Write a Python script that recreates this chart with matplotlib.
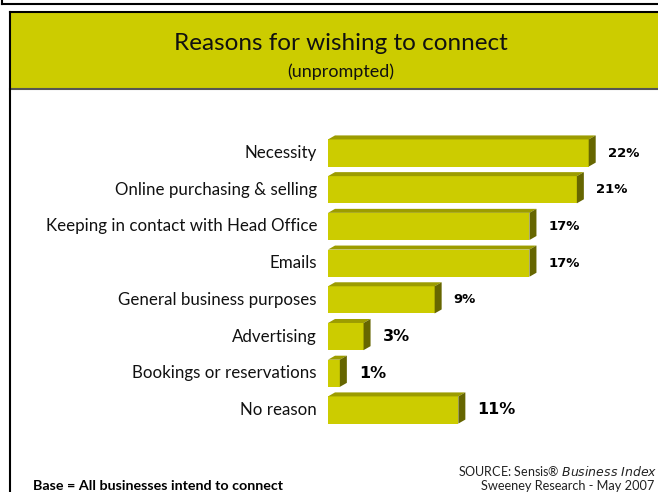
import matplotlib
matplotlib.use("Agg")
import matplotlib.pyplot as plt
from matplotlib.patches import Rectangle, Polygon

# survey answers, top to bottom
reasons = ["Necessity", "Online purchasing & selling",
           "Keeping in contact with Head Office", "Emails",
           "General business purposes", "Advertising",
           "Bookings or reservations", "No reason"]
percent = [22, 21, 17, 17, 9, 3, 1, 11]
label_size = [9.5, 9.5, 9.5, 9.5, 9.5, 11.5, 11.5, 11.5]

title = "Reasons for wishing to connect"
subtitle = "(unprompted)"
base_note = "Base = All businesses intend to connect"
source = "SOURCE: Sensis\u00ae $\\it{Business\\ Index}$"
source2 = "Sweeney Research - May 2007"

front = "#cccc00"
top = "#9c9c00"
side = "#666600"

W, H = 658, 492
fig = plt.figure(figsize=(W / 100, H / 100), dpi=100)

# page furniture in pixel coordinates
bg = fig.add_axes([0, 0, 1, 1])
bg.set_xlim(0, W)
bg.set_ylim(H, 0)
bg.axis("off")
bg.plot([1.5, W], [4, 4], color="black", lw=1.5)
bg.plot([1.5, 1.5], [0, 4], color="black", lw=1.5)
bg.add_patch(Rectangle((10, 11.5), W, 77, facecolor=front, edgecolor="none"))
bg.plot([10, W], [11.5, 11.5], color="black", lw=1.5)
bg.plot([10, W], [89, 89], color="#555555", lw=1.5)
bg.plot([10, 10], [11.5, H], color="black", lw=1.5)

font = ["Lato", "DejaVu Sans"]
bg.text(341, 50, title, ha="center", va="baseline", fontsize=17.5,
        family=font, color="#111111")
bg.text(341, 77, subtitle, ha="center", va="baseline", fontsize=13,
        family=font, color="#111111")
bg.text(33, 490, base_note, ha="left", va="baseline", fontsize=10.3,
        family=font, fontweight="bold", color="black")
bg.text(657, 476, source, ha="right", va="baseline", fontsize=9,
        family=font, color="#222222")
bg.text(568, 490, source2, ha="center", va="baseline", fontsize=9.2,
        family=font, color="#222222")

# chart area: x = 0 sits at pixel 328, one percent ~ 11.85 px
px_per_pct = 11.85
px_per_row = 36.7
left, right = 328, W
y_top, y_bot = 130, 430
ax = fig.add_axes([left / W, 1 - y_bot / H, (right - left) / W, (y_bot - y_top) / H])
ax.set_xlim(0, (right - left) / px_per_pct)
ax.set_ylim(7 + 20 / px_per_row, -23 / px_per_row)
ax.axis("off")

rows = list(range(len(reasons)))
bar_h = 0.74
bars = ax.barh(rows, percent, height=bar_h, color=front, edgecolor="none", zorder=2)

# extrusion for the 3D look
dx = 7 / px_per_pct
dy = 4 / px_per_row
for r, v in zip(rows, percent):
    y0 = r - bar_h / 2
    y1 = r + bar_h / 2
    ax.add_patch(Polygon([(0, y0), (v, y0), (v + dx, y0 - dy), (dx, y0 - dy)],
                         closed=True, facecolor=top, edgecolor="none", zorder=2))
    ax.add_patch(Polygon([(v, y0), (v + dx, y0 - dy), (v + dx, y1 - dy), (v, y1)],
                         closed=True, facecolor=side, edgecolor="none", zorder=2))
    ax.text(v + 1.6, r, f"{v}%", ha="left", va="center", fontsize=label_size[r],
            fontweight="bold", color="black")
    # category label to the left of the bar
    ax.text(-11 / px_per_pct, r, reasons[r], ha="right", va="center", fontsize=12.2,
            family=font, color="#111111", clip_on=False)

fig.savefig("out.png", dpi=100)
